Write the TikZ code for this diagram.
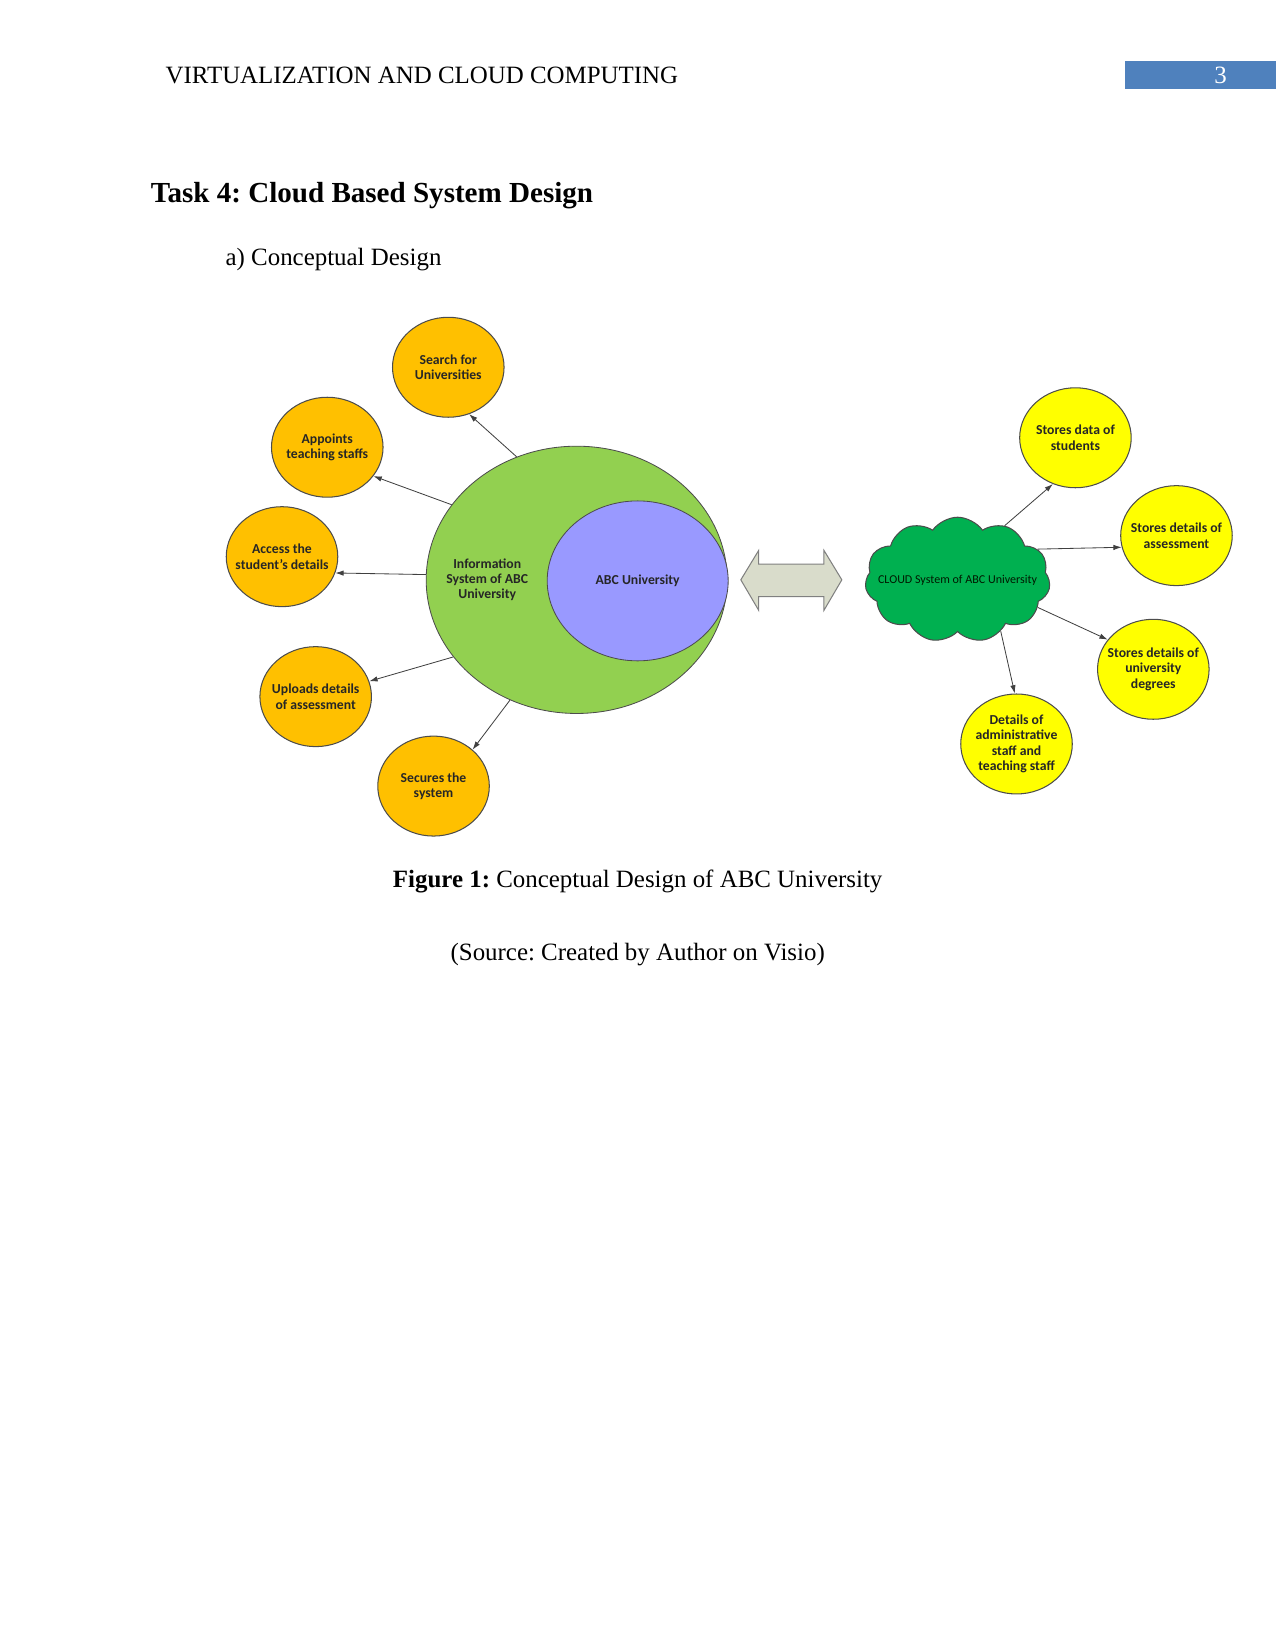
\documentclass[tikz,border=0pt]{standalone}
\usepackage{fontspec}
\setmainfont{Liberation Serif}
\newfontfamily\visiofont{Carlito}
\usetikzlibrary{shapes.geometric,shapes.symbols,arrows.meta}
\frenchspacing
\newcommand{\px}{0.5069pt}
\definecolor{boxblue}{HTML}{4F81BD}
\definecolor{bubgold}{HTML}{FFC000}
\definecolor{bubyellow}{HTML}{FFFF00}
\definecolor{infogreen}{HTML}{92D050}
\definecolor{abcblue}{HTML}{9999FF}
\definecolor{cloudgreen}{HTML}{00B050}
\definecolor{arrowgrey}{HTML}{D9DCCB}
\tikzset{
  plaintext/.style={inner sep=0pt, font=\fontsize{12}{14}\selectfont},
  orangebub/.style={ellipse, draw=black!70, fill=bubgold, line width=0.5pt,
    minimum width=106*\px, minimum height=95*\px, inner sep=0pt},
  yellowbub/.style={orangebub, fill=bubyellow},
  bubtext/.style={font=\visiofont\bfseries\fontsize{6.6}{7.4}\selectfont, align=center, text=black!85},
  cloudtext/.style={font=\visiofont\fontsize{5.8}{7}\selectfont, text=black!90!green},
  link/.style={-{Latex[length=4pt,width=2.6pt]}, black!75, line width=0.4pt}
}
\begin{document}
\begin{tikzpicture}[x=\px, y=-\px]
  \useasboundingbox (0,0) rectangle (1212,1568);
  % page head
  \node[plaintext, anchor=base west] (header) at (157,79) {VIRTUALIZATION AND CLOUD COMPUTING};
  \node[fill=boxblue, minimum width=143*\px, minimum height=26*\px, inner sep=0pt, anchor=north west] (pagebox) at (1069,58) {};
  \node[plaintext, anchor=base, text=white] (pagenum) at (1160,79) {3};
  \node[plaintext, anchor=base west, font=\bfseries\fontsize{14}{17}\selectfont] (title) at (143,192) {Task 4: Cloud Based System Design};
  \node[plaintext, anchor=base west] (subtitle) at (214,252) {a) Conceptual Design};
  % information system side
  \node[ellipse, draw=black!70, fill=infogreen, minimum width=286*\px, minimum height=254*\px, inner sep=0pt] (info) at (548,551) {};
  \node[ellipse, draw=black!70, fill=abcblue, minimum width=172*\px, minimum height=152*\px, inner sep=0pt, bubtext] (abc) at (606,552) {ABC University};
  \node[bubtext] (infotxt) at (463,551) {Information\\System of ABC\\University};
  \foreach \nm/\bx/\by/\txt in {search/426/349/{Search for\\Universities}, appoint/311/425/{Appoints\\teaching staffs},
      access/268/529/{Access the\\student’s details}, upload/300/662/{Uploads details\\of assessment}, secure/412/747/{Secures the\\system}}
    \node[orangebub, label={[bubtext]center:{\txt}}] (\nm) at (\bx,\by) {};
  \foreach \nm/\a/\b in {search/116/-66, appoint/149/-32, access/178/-17, upload/212/16, secure/241/43}
    \draw[link] (info.\a) -- (\nm.\b);
  % double arrow between the two systems
  \draw[fill=arrowgrey, draw=black!50, line width=0.5pt] (704,551) -- (721,523) -- (721,536) -- (783,536) -- (783,523)
    -- (800,551) -- (783,580) -- (783,567) -- (721,567) -- (721,580) -- cycle;
  % cloud side
  \node[cloud, cloud puffs=11, cloud puff arc=110, draw=black!70, fill=cloudgreen, line width=0.5pt,
    minimum width=176*\px, minimum height=119*\px, inner sep=0pt,
    label={[cloudtext]center:CLOUD System of ABC University}] (cloud) at (910,551) {};
  \foreach \nm/\bx/\by/\txt in {data/1022/416/{Stores data of\\students}, assess/1118/509/{Stores details of\\assessment},
      degrees/1096/636/{Stores details of\\university\\degrees}, admin/966/707/{Details of\\administrative\\staff and\\teaching staff}}
    \node[yellowbub, label={[bubtext]center:{\txt}}] (\nm) at (\bx,\by) {};
  \foreach \nm/\a/\b in {data/49/244, assess/21/192, degrees/-19/147, admin/-50/92}
    \draw[link] (cloud.\a) -- (\nm.\b);
  % caption
  \node[plaintext, anchor=base] (caption) at (606,843) {\textbf{Figure 1:} Conceptual Design of ABC University};
  \node[plaintext, anchor=base] (source) at (606,913) {(Source: Created by Author on Visio)};
\end{tikzpicture}
\end{document}
